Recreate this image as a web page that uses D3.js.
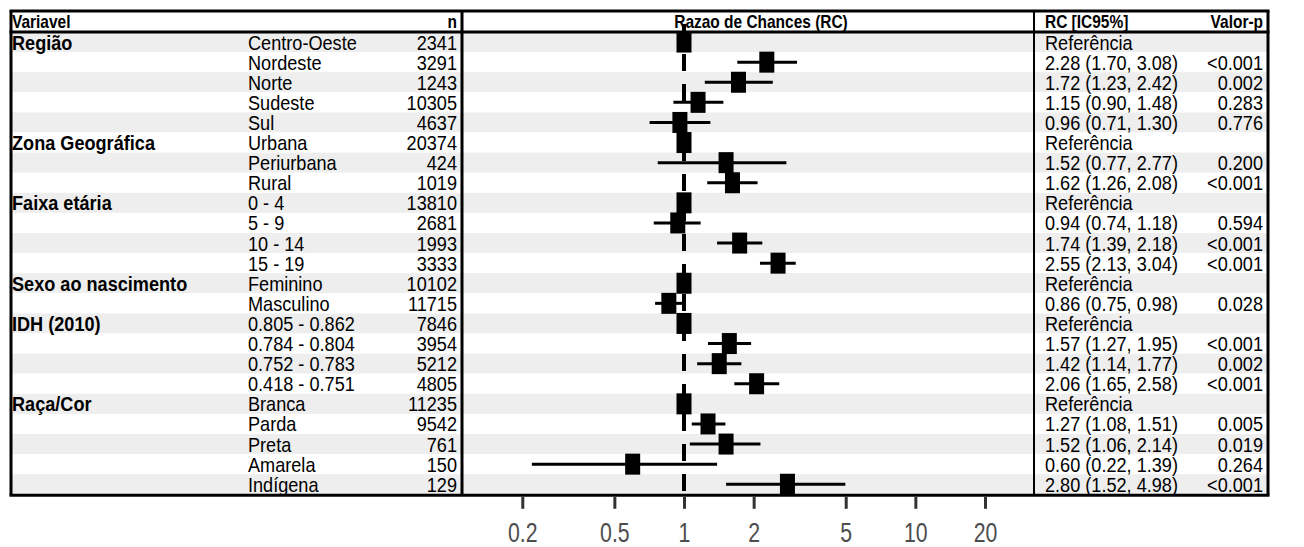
<!DOCTYPE html>
<html>
<head>
<meta charset="utf-8">
<script src="https://cdn.jsdelivr.net/npm/d3@7"></script>
<style>
  html, body { margin: 0; padding: 0; background: #fff; }
  svg { display: block; }
</style>
</head>
<body>
<svg id="chart" width="1304" height="547"></svg>
<script>
// ---------- data ----------
const variables = ["Região", "", "", "", "",
  "Zona Geográfica", "", "",
  "Faixa etária", "", "", "",
  "Sexo ao nascimento", "",
  "IDH (2010)", "", "", "",
  "Raça/Cor", "", "", "", ""];
const levels = ["Centro-Oeste", "Nordeste", "Norte", "Sudeste", "Sul",
  "Urbana", "Periurbana", "Rural",
  "0 - 4", "5 - 9", "10 - 14", "15 - 19",
  "Feminino", "Masculino",
  "0.805 - 0.862", "0.784 - 0.804", "0.752 - 0.783", "0.418 - 0.751",
  "Branca", "Parda", "Preta", "Amarela", "Indígena"];
const nCounts = [2341, 3291, 1243, 10305, 4637,
  20374, 424, 1019,
  13810, 2681, 1993, 3333,
  10102, 11715,
  7846, 3954, 5212, 4805,
  11235, 9542, 761, 150, 129];
const estimates = [1, 2.28, 1.72, 1.15, 0.96,
  1, 1.52, 1.62,
  1, 0.94, 1.74, 2.55,
  1, 0.86,
  1, 1.57, 1.42, 2.06,
  1, 1.27, 1.52, 0.60, 2.80];
const lowers = [null, 1.70, 1.23, 0.90, 0.71,
  null, 0.77, 1.26,
  null, 0.74, 1.39, 2.13,
  null, 0.75,
  null, 1.27, 1.14, 1.65,
  null, 1.08, 1.06, 0.22, 1.52];
const uppers = [null, 3.08, 2.42, 1.48, 1.30,
  null, 2.77, 2.08,
  null, 1.18, 2.18, 3.04,
  null, 0.98,
  null, 1.95, 1.77, 2.58,
  null, 1.51, 2.14, 1.39, 4.98];
const pValues = ["", "<0.001", "0.002", "0.283", "0.776",
  "", "0.200", "<0.001",
  "", "0.594", "<0.001", "<0.001",
  "", "0.028",
  "", "<0.001", "0.002", "<0.001",
  "", "0.005", "0.019", "0.264", "<0.001"];
const tickValues = [0.2, 0.5, 1, 2, 5, 10, 20];
const headers = { variable: "Variavel", n: "n", plot: "Razao de Chances (RC)", ci: "RC [IC95%]", p: "Valor-p" };

// ---------- layout ----------
const svg = d3.select("#chart");
const L = 11, R = 1268, TOP = 11, HEAD_BOTTOM = 32, ROW_H = 20.1;
const nRows = levels.length;
const BOTTOM = HEAD_BOTTOM + nRows * ROW_H + 1;
const COL_LEVEL = 248, COL_N = 457, COL_PLOT_L = 462, COL_PLOT_R = 1034, COL_CI = 1045, COL_P = 1263;

const x = d3.scaleLog().domain([1, 20]).range([684, 985]);
const y = d3.scaleBand().domain(d3.range(nRows)).range([HEAD_BOTTOM, HEAD_BOTTOM + nRows * ROW_H]).padding(0);

const FONT = "'Liberation Sans', Arial, Helvetica, sans-serif";
function txt(g, s, px, py, opts) {
  opts = opts || {};
  return g.append("text")
    .attr("transform", `translate(${px},${py}) scale(${opts.sx || 0.93},1)`)
    .attr("text-anchor", opts.anchor || "start")
    .attr("font-family", FONT)
    .attr("font-size", (opts.size || 19.5) + "px")
    .attr("font-weight", opts.bold ? "bold" : "normal")
    .attr("fill", opts.fill || "#000")
    .text(s);
}

// stripes
svg.append("g").selectAll("rect").data(d3.range(nRows)).join("rect")
  .attr("x", L).attr("width", R - L)
  .attr("y", i => y(i)).attr("height", y.bandwidth())
  .attr("fill", i => i % 2 === 0 ? "#eeeeee" : "#ffffff");

// reference dashed line at RC = 1
svg.append("line")
  .attr("x1", x(1)).attr("x2", x(1))
  .attr("y1", 24).attr("y2", BOTTOM)
  .attr("stroke", "#000").attr("stroke-width", 4)
  .attr("stroke-dasharray", "17,13");

// CI lines
const ciRows = d3.range(nRows).filter(i => lowers[i] !== null);
svg.append("g").selectAll("line").data(ciRows).join("line")
  .attr("x1", i => x(lowers[i])).attr("x2", i => x(uppers[i]))
  .attr("y1", i => y(i) + y.bandwidth() / 2).attr("y2", i => y(i) + y.bandwidth() / 2)
  .attr("stroke", "#000").attr("stroke-width", 3);

// point estimates
const SQ_W = 15, SQ_H = 21;
svg.append("g").selectAll("rect").data(d3.range(nRows)).join("rect")
  .attr("x", i => x(estimates[i]) - SQ_W / 2).attr("width", SQ_W)
  .attr("y", i => y(i) + y.bandwidth() / 2 - SQ_H / 2).attr("height", SQ_H)
  .attr("fill", "#000");

// table text
const tg = svg.append("g");
d3.range(nRows).forEach(i => {
  const by = y(i) + 17.5;
  if (variables[i]) txt(tg, variables[i], 12, by, { bold: true });
  txt(tg, levels[i], COL_LEVEL, by);
  txt(tg, String(nCounts[i]), COL_N, by, { anchor: "end" });
  const ci = lowers[i] === null ? "Referência"
    : `${estimates[i].toFixed(2)} (${lowers[i].toFixed(2)}, ${uppers[i].toFixed(2)})`;
  txt(tg, ci, COL_CI, by);
  if (pValues[i]) txt(tg, pValues[i], COL_P, by, { anchor: "end" });
});

// header text
const hg = svg.append("g");
const hy = 28;
const hOpt = { bold: true, sx: 0.86, size: 18 };
txt(hg, headers.variable, 12, hy, hOpt);
txt(hg, headers.n, COL_N, hy, Object.assign({}, hOpt, { anchor: "end" }));
txt(hg, headers.plot, 761, hy, Object.assign({}, hOpt, { anchor: "middle" }));
txt(hg, headers.ci, COL_CI, hy, hOpt);
txt(hg, headers.p, COL_P, hy, Object.assign({}, hOpt, { anchor: "end" }));

// borders
const bg = svg.append("g").attr("stroke", "#000").attr("fill", "none");
bg.append("line").attr("x1", L - 1.5).attr("x2", R + 1.5).attr("y1", TOP).attr("y2", TOP).attr("stroke-width", 3);
bg.append("line").attr("x1", L - 1.5).attr("x2", R + 1.5).attr("y1", HEAD_BOTTOM).attr("y2", HEAD_BOTTOM).attr("stroke-width", 3);
bg.append("line").attr("x1", L - 1.5).attr("x2", R + 1.5).attr("y1", BOTTOM).attr("y2", BOTTOM).attr("stroke-width", 3);
bg.append("line").attr("x1", L).attr("x2", L).attr("y1", TOP).attr("y2", BOTTOM).attr("stroke-width", 3);
bg.append("line").attr("x1", R).attr("x2", R).attr("y1", TOP).attr("y2", BOTTOM).attr("stroke-width", 3);
bg.append("line").attr("x1", COL_PLOT_L).attr("x2", COL_PLOT_L).attr("y1", TOP).attr("y2", BOTTOM).attr("stroke-width", 3);
bg.append("line").attr("x1", COL_PLOT_R).attr("x2", COL_PLOT_R).attr("y1", TOP).attr("y2", BOTTOM).attr("stroke-width", 2);

// axis
const axis = d3.axisBottom(x).tickValues(tickValues).tickFormat(d => String(d)).tickSize(12).tickPadding(6);
const ag = svg.append("g").attr("transform", `translate(0,${BOTTOM + 1.5})`).call(axis);
ag.select(".domain").remove();
ag.selectAll(".tick line").attr("stroke", "#333").attr("stroke-width", 3);
ag.selectAll(".tick text")
  .attr("fill", "#4d4d4d")
  .attr("font-family", FONT)
  .attr("font-size", "28px")
  .attr("dy", null)
  .attr("y", null)
  .attr("transform", "translate(0,45) scale(0.76,1)");
</script>
</body>
</html>
